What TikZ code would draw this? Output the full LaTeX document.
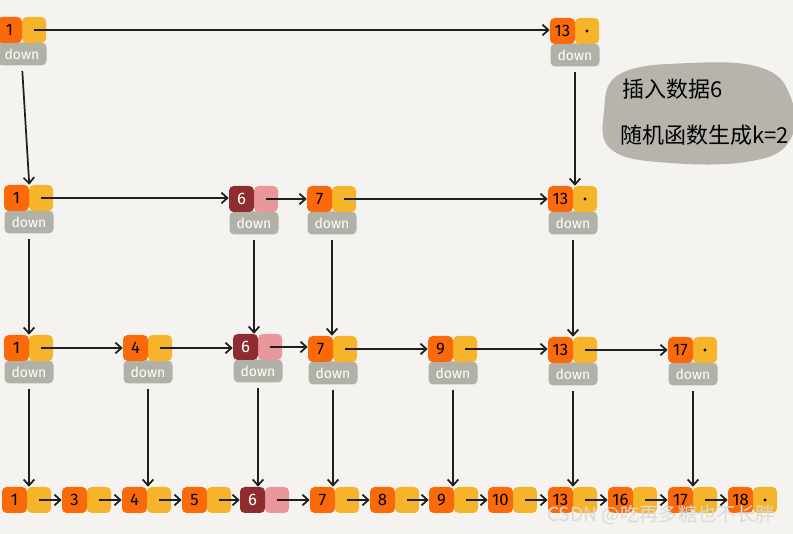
\documentclass[tikz,border=0pt]{standalone}
\usepackage{fontspec}
\setmainfont{Fira Sans}
\newfontfamily\cjk{Noto Sans CJK SC}
\usetikzlibrary{arrows.meta}
\definecolor{bgcol}{HTML}{F4F3EF}
\definecolor{korange}{HTML}{FB6A0A}
\definecolor{kyellow}{HTML}{F6B42A}
\definecolor{kgray}{HTML}{B2B1A8}
\definecolor{kred}{HTML}{8E2C30}
\definecolor{kpink}{HTML}{E9979B}
\definecolor{knote}{HTML}{B6B4AB}
\newcommand\sknode[6]{%
  \node[downbox] (#1d) at (#2,#3+37) {down};
  \node[ptr#5] (#1p) at (#2+12,#3+13) {};
  \node[key#5] (#1k) at (#2-12.5,#3+13) {#4};
  \ifnum#6=1 \fill[black] (#1p.center) circle (1.7);\fi
}
\newcommand\sknodeb[6]{%
  \node[ptr#5] (#1p) at (#2+12,#3+13) {};
  \node[key#5] (#1k) at (#2-12.5,#3+13) {#4};
  \ifnum#6=1 \fill[black] (#1p.center) circle (1.7);\fi
}
\begin{document}
\begin{tikzpicture}[x=0.75pt,y=-0.75pt,
  box/.style={inner sep=0pt, rounded corners=3.5pt, font=\fontsize{12.5}{13}\selectfont},
  keyo/.style={box, fill=korange, text=black, minimum width=18.75pt, minimum height=19.5pt},
  keyr/.style={box, fill=kred, text=white, minimum width=18.75pt, minimum height=19.5pt},
  ptro/.style={box, fill=kyellow, minimum width=18pt, minimum height=19.5pt},
  ptrr/.style={box, fill=kpink, minimum width=18pt, minimum height=19.5pt},
  downbox/.style={box, fill=kgray, text=white, minimum width=36.75pt, minimum height=17.25pt, font=\fontsize{10.5}{11}\selectfont},
  arr/.style={draw=black!88, line width=1.3pt, -{Straight Barb[length=4.5pt,width=8pt]}},
  vdown/.style={arr, shorten <=4pt},
  notetext/.style={font=\cjk\fontsize{16.5}{20}\selectfont, text=black, inner sep=0pt, anchor=west},
]
\fill[bgcol] (0,0) rectangle (793,534);
\useasboundingbox (0,0) rectangle (793,534);

% note blob
\fill[knote] plot[smooth cycle, tension=0.7] coordinates {(604,112) (620,74) (690,63) (762,68) (791,98) (790,140) (752,161) (670,163) (612,150)};
\node[notetext] (note1) at (622,89) {插入数据6};
\node[notetext] (note2) at (620,135) {随机函数生成k=2};

% level 3
\sknode{A1}{22}{17}{1}{o}{0}
\sknode{A13}{575}{18}{13}{o}{1}
% level 2
\sknode{B1}{29}{185}{1}{o}{0}
\sknode{B6}{254}{186}{6}{r}{0}
\sknode{B7}{332}{186}{7}{o}{0}
\sknode{B13}{573}{186}{13}{o}{1}
% level 1
\sknode{C1}{29}{335}{1}{o}{0}
\sknode{C4}{148}{335}{4}{o}{0}
\sknode{C6}{258}{334}{6}{r}{0}
\sknode{C7}{333}{336}{7}{o}{0}
\sknode{C9}{453}{336}{9}{o}{0}
\sknode{C13}{573}{337}{13}{o}{0}
\sknode{C17}{693}{337}{17}{o}{1}
% level 0
\sknodeb{D1}{27}{487}{1}{o}{0}
\sknodeb{D3}{87}{487}{3}{o}{0}
\sknodeb{D4}{147}{487}{4}{o}{0}
\sknodeb{D5}{207}{487}{5}{o}{0}
\sknodeb{D6}{265}{487}{6}{r}{0}
\sknodeb{D7}{335}{487}{7}{o}{0}
\sknodeb{D8}{395}{487}{8}{o}{0}
\sknodeb{D9}{454}{487}{9}{o}{0}
\sknodeb{D10}{513}{487}{10}{o}{0}
\sknodeb{D13}{573}{487}{13}{o}{0}
\sknodeb{D16}{633}{487}{16}{o}{0}
\sknodeb{D17}{693}{487}{17}{o}{0}
\sknodeb{D18}{753}{487}{18}{o}{1}

% horizontal links
\foreach \a/\b in {A1/A13, B1/B6, B6/B7, B7/B13,
  C1/C4, C4/C6, C6/C7, C7/C9, C9/C13, C13/C17,
  D1/D3, D3/D4, D4/D5, D5/D6, D6/D7, D7/D8, D8/D9, D9/D10, D10/D13, D13/D16, D16/D17, D17/D18}
  \draw[arr] (\a p.center) -- (\a p.center -| \b k.west);

% vertical links
\draw[vdown] (A1d.south) -- (B1k.north east);
\foreach \a/\b in {A13/B13, B1/C1, B6/C6, B7/C7, B13/C13,
  C1/D1, C4/D4, C6/D6, C7/D7, C9/D9, C13/D13, C17/D17}
  \draw[vdown] (\a d.south) -- (\a d.south |- \b k.north);

% watermark
\node[font=\cjk\fontsize{14.5}{16}\selectfont, text=white!70!gray, inner sep=0pt] (wm) at (661,515) {CSDN @吃再多糖也不长胖};
\end{tikzpicture}
\end{document}
